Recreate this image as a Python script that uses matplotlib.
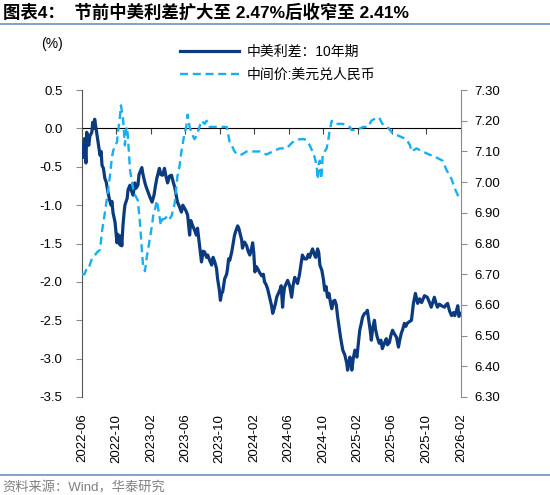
import matplotlib
matplotlib.use("Agg")
import matplotlib.pyplot as plt
import matplotlib.dates as mdates
import pandas as pd

plt.rcParams['font.family'] = ['Liberation Sans', 'Noto Sans CJK SC', 'DejaVu Sans']

title_text = "图表4：  节前中美利差扩大至 2.47%后收窄至 2.41%"
source_text = "资料来源：Wind，华泰研究"
spread_label = "中美利差：10年期"
cny_label = "中间价:美元兑人民币"

spread_dates = [
    "2022-06-01", "2022-06-04", "2022-06-08", "2022-06-11", "2022-06-15", "2022-06-18", "2022-06-22", "2022-06-25",
    "2022-06-29", "2022-07-06", "2022-07-09", "2022-07-13", "2022-07-16", "2022-07-20", "2022-07-23", "2022-07-28",
    "2022-08-04", "2022-08-08", "2022-08-11", "2022-08-16", "2022-08-21", "2022-08-26", "2022-09-01", "2022-09-06",
    "2022-09-12", "2022-09-15", "2022-09-19", "2022-09-26", "2022-10-03", "2022-10-06", "2022-10-10", "2022-10-14",
    "2022-10-17", "2022-10-20", "2022-10-24", "2022-10-28", "2022-10-31", "2022-11-08", "2022-11-11", "2022-11-18",
    "2022-11-22", "2022-11-29", "2022-12-05", "2022-12-09", "2022-12-16", "2022-12-20", "2022-12-30", "2023-01-03",
    "2023-01-10", "2023-01-14", "2023-01-21", "2023-01-28", "2023-02-04", "2023-02-11", "2023-02-16", "2023-02-21",
    "2023-02-26", "2023-03-02", "2023-03-07", "2023-03-13", "2023-03-20", "2023-03-24", "2023-03-31", "2023-04-07",
    "2023-04-14", "2023-04-20", "2023-04-25", "2023-05-01", "2023-05-05", "2023-05-12", "2023-05-19", "2023-05-24",
    "2023-05-30", "2023-06-05", "2023-06-10", "2023-06-17", "2023-06-21", "2023-06-27", "2023-07-04", "2023-07-11",
    "2023-07-15", "2023-07-22", "2023-07-29", "2023-08-04", "2023-08-09", "2023-08-16", "2023-08-20", "2023-08-27",
    "2023-09-03", "2023-09-08", "2023-09-14", "2023-09-20", "2023-09-24", "2023-09-30", "2023-10-04", "2023-10-08",
    "2023-10-12", "2023-10-19", "2023-10-26", "2023-10-29", "2023-11-02", "2023-11-06", "2023-11-13", "2023-11-18",
    "2023-11-23", "2023-11-28", "2023-12-04", "2023-12-08", "2023-12-14", "2023-12-18", "2023-12-21", "2023-12-28",
    "2024-01-05", "2024-01-10", "2024-01-16", "2024-01-23", "2024-01-26", "2024-01-30", "2024-02-03", "2024-02-08",
    "2024-02-13", "2024-02-20", "2024-02-27", "2024-03-04", "2024-03-08", "2024-03-13", "2024-03-19", "2024-03-26",
    "2024-04-02", "2024-04-06", "2024-04-11", "2024-04-16", "2024-04-20", "2024-04-26", "2024-05-01", "2024-05-06",
    "2024-05-11", "2024-05-14", "2024-05-18", "2024-05-24", "2024-05-29", "2024-06-05", "2024-06-12", "2024-06-17",
    "2024-06-23", "2024-06-28", "2024-07-03", "2024-07-10", "2024-07-17", "2024-07-20", "2024-07-27", "2024-08-04",
    "2024-08-10", "2024-08-15", "2024-08-20", "2024-08-25", "2024-09-01", "2024-09-05", "2024-09-12", "2024-09-16",
    "2024-09-20", "2024-09-27", "2024-10-03", "2024-10-07", "2024-10-12", "2024-10-17", "2024-10-22", "2024-10-28",
    "2024-11-01", "2024-11-07", "2024-11-12", "2024-11-17", "2024-11-22", "2024-12-02", "2024-12-10", "2024-12-17",
    "2024-12-24", "2024-12-27", "2025-01-04", "2025-01-08", "2025-01-11", "2025-01-16", "2025-01-22", "2025-01-29",
    "2025-02-03", "2025-02-08", "2025-02-13", "2025-02-18", "2025-02-25", "2025-03-03", "2025-03-07", "2025-03-10",
    "2025-03-17", "2025-03-21", "2025-03-26", "2025-04-01", "2025-04-05", "2025-04-11", "2025-04-18", "2025-04-24",
    "2025-04-29", "2025-05-06", "2025-05-13", "2025-05-17", "2025-05-24", "2025-05-29", "2025-06-04", "2025-06-11",
    "2025-06-18", "2025-06-25", "2025-06-30", "2025-07-05", "2025-07-10", "2025-07-16", "2025-07-21", "2025-07-26",
    "2025-08-02", "2025-08-10", "2025-08-17", "2025-08-24", "2025-09-01", "2025-09-08", "2025-09-15", "2025-09-25",
    "2025-10-05", "2025-10-12", "2025-10-19", "2025-10-30", "2025-11-05", "2025-11-10", "2025-11-17", "2025-11-24",
    "2025-12-05", "2025-12-10", "2025-12-16", "2025-12-23", "2025-12-30", "2026-01-06", "2026-01-10", "2026-01-16",
    "2026-01-21", "2026-01-25", "2026-01-30",
]
spread_values = [
    -0.28, -0.38, -0.20, -0.13, -0.45, -0.05, -0.15, -0.22,
    -0.10, -0.05, 0.08, 0.00, 0.12, 0.02, -0.05, -0.18,
    -0.35, -0.30, -0.48, -0.52, -0.65, -0.70, -0.83, -0.92,
    -1.00, -0.95, -1.10, -1.22, -1.49, -1.38, -1.44, -1.52,
    -1.40, -1.53, -1.27, -1.10, -1.00, -0.91, -0.80, -0.74,
    -0.80, -0.87, -0.71, -0.78, -0.74, -0.60, -0.51, -0.60,
    -0.71, -0.76, -0.83, -0.90, -0.96, -0.87, -0.75, -0.65,
    -0.58, -0.52, -0.60, -0.61, -0.52, -0.60, -0.71, -0.62,
    -0.61, -0.70, -0.76, -0.88, -0.96, -1.02, -1.09, -1.00,
    -1.04, -1.08, -1.13, -1.39, -1.20, -1.26, -1.32, -1.39,
    -1.30, -1.52, -1.74, -1.60, -1.61, -1.68, -1.65, -1.72,
    -1.78, -1.68, -1.74, -1.82, -1.96, -2.10, -2.24, -2.15,
    -2.13, -1.96, -1.90, -1.83, -1.70, -1.72, -1.61, -1.50,
    -1.39, -1.33, -1.27, -1.30, -1.39, -1.45, -1.56, -1.48,
    -1.53, -1.60, -1.65, -1.55, -1.49, -1.62, -1.87, -1.80,
    -1.83, -1.88, -1.92, -1.90, -2.00, -2.03, -2.09, -2.20,
    -2.31, -2.41, -2.35, -2.28, -2.20, -2.15, -2.11, -2.05,
    -2.33, -2.18, -2.07, -2.02, -1.98, -2.05, -2.20, -2.05,
    -1.94, -1.98, -2.02, -1.90, -1.72, -1.65, -1.70, -1.70,
    -1.64, -1.68, -1.62, -1.57, -1.65, -1.68, -1.57, -1.62,
    -1.78, -1.85, -1.98, -2.11, -2.06, -2.20, -2.15, -2.28,
    -2.35, -2.25, -2.24, -2.30, -2.46, -2.72, -2.89, -2.95,
    -3.06, -3.15, -2.98, -3.05, -3.15, -3.00, -2.89, -2.98,
    -2.80, -2.63, -2.55, -2.46, -2.41, -2.40, -2.37, -2.45,
    -2.63, -2.76, -2.60, -2.50, -2.62, -2.72, -2.80, -2.76,
    -2.87, -2.80, -2.74, -2.82, -2.79, -2.70, -2.63, -2.68,
    -2.72, -2.85, -2.75, -2.67, -2.62, -2.54, -2.58, -2.54,
    -2.52, -2.50, -2.28, -2.15, -2.28, -2.22, -2.27, -2.18,
    -2.20, -2.26, -2.33, -2.20, -2.28, -2.33, -2.29, -2.31,
    -2.33, -2.30, -2.28, -2.38, -2.44, -2.40, -2.44, -2.38,
    -2.31, -2.45, -2.41,
]

cny_dates = [
    "2022-06-01", "2022-06-10", "2022-06-18", "2022-06-25", "2022-07-06", "2022-07-16", "2022-07-23", "2022-08-04",
    "2022-08-11", "2022-08-21", "2022-09-01", "2022-09-08", "2022-09-15", "2022-09-19", "2022-09-26", "2022-10-03",
    "2022-10-06", "2022-10-12", "2022-10-17", "2022-10-24", "2022-10-31", "2022-11-04", "2022-11-08", "2022-11-14",
    "2022-11-18", "2022-11-29", "2022-12-05", "2022-12-16", "2022-12-23", "2022-12-30", "2023-01-03", "2023-01-10",
    "2023-01-17", "2023-01-21", "2023-01-28", "2023-02-04", "2023-02-08", "2023-02-14", "2023-02-21", "2023-03-02",
    "2023-03-07", "2023-03-13", "2023-03-20", "2023-03-31", "2023-04-07", "2023-04-14", "2023-04-25", "2023-05-05",
    "2023-05-12", "2023-05-19", "2023-05-30", "2023-06-05", "2023-06-10", "2023-06-17", "2023-06-24", "2023-07-04",
    "2023-07-11", "2023-07-15", "2023-07-22", "2023-07-29", "2023-08-09", "2023-08-16", "2023-08-27", "2023-09-07",
    "2023-09-21", "2023-10-12", "2023-10-26", "2023-11-06", "2023-11-13", "2023-11-23", "2023-12-04", "2023-12-18",
    "2024-01-05", "2024-01-26", "2024-02-21", "2024-03-15", "2024-04-06", "2024-05-01", "2024-05-25", "2024-06-15",
    "2024-07-10", "2024-07-28", "2024-08-08", "2024-08-15", "2024-08-25", "2024-09-02", "2024-09-09", "2024-09-12",
    "2024-09-16", "2024-09-20", "2024-09-24", "2024-09-27", "2024-09-30", "2024-10-07", "2024-10-14", "2024-10-20",
    "2024-10-25", "2024-11-01", "2024-11-10", "2024-11-19", "2024-12-10", "2024-12-27", "2025-01-04", "2025-01-10",
    "2025-01-29", "2025-02-20", "2025-03-10", "2025-03-21", "2025-04-08", "2025-04-18", "2025-04-29", "2025-05-17",
    "2025-06-04", "2025-06-28", "2025-07-23", "2025-08-05", "2025-08-10", "2025-08-28", "2025-09-18", "2025-10-12",
    "2025-11-07", "2025-11-28", "2025-12-12", "2025-12-30", "2026-01-10", "2026-01-20", "2026-01-28",
]
cny_values = [
    6.70, 6.70, 6.72, 6.72, 6.75, 6.76, 6.77, 6.78,
    6.84, 6.90, 6.97, 7.02, 7.08, 7.10, 7.12, 7.13,
    7.16, 7.20, 7.25, 7.21, 7.12, 7.17, 7.18, 7.10,
    7.04, 6.98, 6.96, 6.94, 6.87, 6.78, 6.73, 6.71,
    6.76, 6.78, 6.82, 6.86, 6.89, 6.91, 6.94, 6.89,
    6.86, 6.88, 6.88, 6.89, 6.88, 6.89, 6.93, 7.02,
    7.05, 7.10, 7.16, 7.18, 7.22, 7.18, 7.16, 7.14,
    7.15, 7.16, 7.18, 7.20, 7.19, 7.20, 7.18, 7.18,
    7.18, 7.18, 7.18, 7.13, 7.12, 7.10, 7.09, 7.09,
    7.10, 7.10, 7.10, 7.09, 7.10, 7.11, 7.11, 7.13,
    7.14, 7.14, 7.13, 7.12, 7.10, 7.08, 7.05, 7.01,
    7.06, 7.07, 7.01, 7.03, 7.09, 7.10, 7.11, 7.14,
    7.17, 7.20, 7.19, 7.19, 7.19, 7.18, 7.18, 7.17,
    7.17, 7.18, 7.18, 7.20, 7.21, 7.21, 7.19, 7.18,
    7.16, 7.15, 7.14, 7.12, 7.10, 7.11, 7.10, 7.09,
    7.08, 7.07, 7.04, 7.01, 6.98, 6.96, 6.94,
]

left_ticks = [-3.5, -3.0, -2.5, -2.0, -1.5, -1.0, -0.5, 0.0, 0.5]
right_ticks = [6.30, 6.40, 6.50, 6.60, 6.70, 6.80, 6.90, 7.00, 7.10, 7.20, 7.30]
x_start, x_end = "2022-06-01", "2026-02-01"

navy = "#0b3a7e"
sky = "#18aef0"
axis_gray = "#8c8c8c"

fig = plt.figure(figsize=(5.5, 4.95), dpi=100)
ax = fig.add_axes([0.149, 0.198, 0.689, 0.620])
ax2 = ax.twinx()

sd = pd.to_datetime(spread_dates)
cd = pd.to_datetime(cny_dates)
l1, = ax.plot(sd, spread_values, color=navy, lw=2.3, label=spread_label, zorder=3)
l2, = ax2.plot(cd, cny_values, color=sky, lw=1.7, dashes=(3.4, 2.0), label=cny_label)

ax.set_xlim(pd.Timestamp(x_start), pd.Timestamp(x_end))
ax.set_ylim(-3.5, 0.5)
ax2.set_ylim(6.30, 7.30)

xt = pd.date_range(x_start, x_end, freq="4MS")
ax.set_xticks(xt)
ax.xaxis.set_major_formatter(mdates.DateFormatter("%Y-%m"))
ax.tick_params(axis="x", length=0, labelsize=9.5, labelrotation=90, pad=12)
for lab in ax.get_xticklabels():
    lab.set_va("top")

ax.set_yticks(left_ticks)
ax.set_yticklabels([f"{v:.1f}" for v in left_ticks])
ax.tick_params(axis="y", labelsize=9.5, length=4, color=axis_gray, pad=10)
ax2.set_yticks(right_ticks)
ax2.set_yticklabels([f"{v:.2f}" for v in right_ticks])
ax2.tick_params(axis="y", labelsize=9.5, length=4, color=axis_gray, pad=6)

for a in (ax, ax2):
    a.spines["top"].set_visible(False)
    a.spines["bottom"].set_visible(False)
ax.spines["left"].set_color("#555555")
ax2.spines["left"].set_visible(False)
ax2.spines["right"].set_color(axis_gray)
ax.spines["right"].set_visible(False)

# zero line axis with downward ticks
zero_frac = (0 - (-3.5)) / (0.5 - (-3.5))
sec = ax.secondary_xaxis(zero_frac)
sec.set_xticks(xt)
sec.tick_params(axis="x", direction="out", length=4, color="#444444", labelbottom=False, labeltop=False)
sec.spines["bottom"].set_color("#444444")
sec.spines["bottom"].set_linewidth(1.0)
sec.xaxis.set_ticks_position("bottom")
sec.set_xticklabels([])

fig.text(0.075, 0.911, "(%)", fontsize=10, ha="left", va="center")

fig.legend([l1, l2], [spread_label, cny_label], loc="center left", bbox_to_anchor=(0.305, 0.872),
           frameon=False, fontsize=10, handlelength=4.2, handletextpad=0.6, labelspacing=0.65)

fig.text(0.005, 0.975, title_text, fontsize=12.5, fontweight="bold", ha="left", va="center",
         family=["Liberation Sans", "Noto Sans CJK SC"])
fig.add_artist(plt.Line2D([0, 1], [0.952, 0.952], transform=fig.transFigure, color="#6f8fc0", lw=1.2))
fig.add_artist(plt.Line2D([0, 1], [0.041, 0.041], transform=fig.transFigure, color="#6f8fc0", lw=1.2))
fig.text(0.005, 0.014, source_text, fontsize=9.5, color="#808080", ha="left", va="center")

fig.savefig("out.png", dpi=100)
